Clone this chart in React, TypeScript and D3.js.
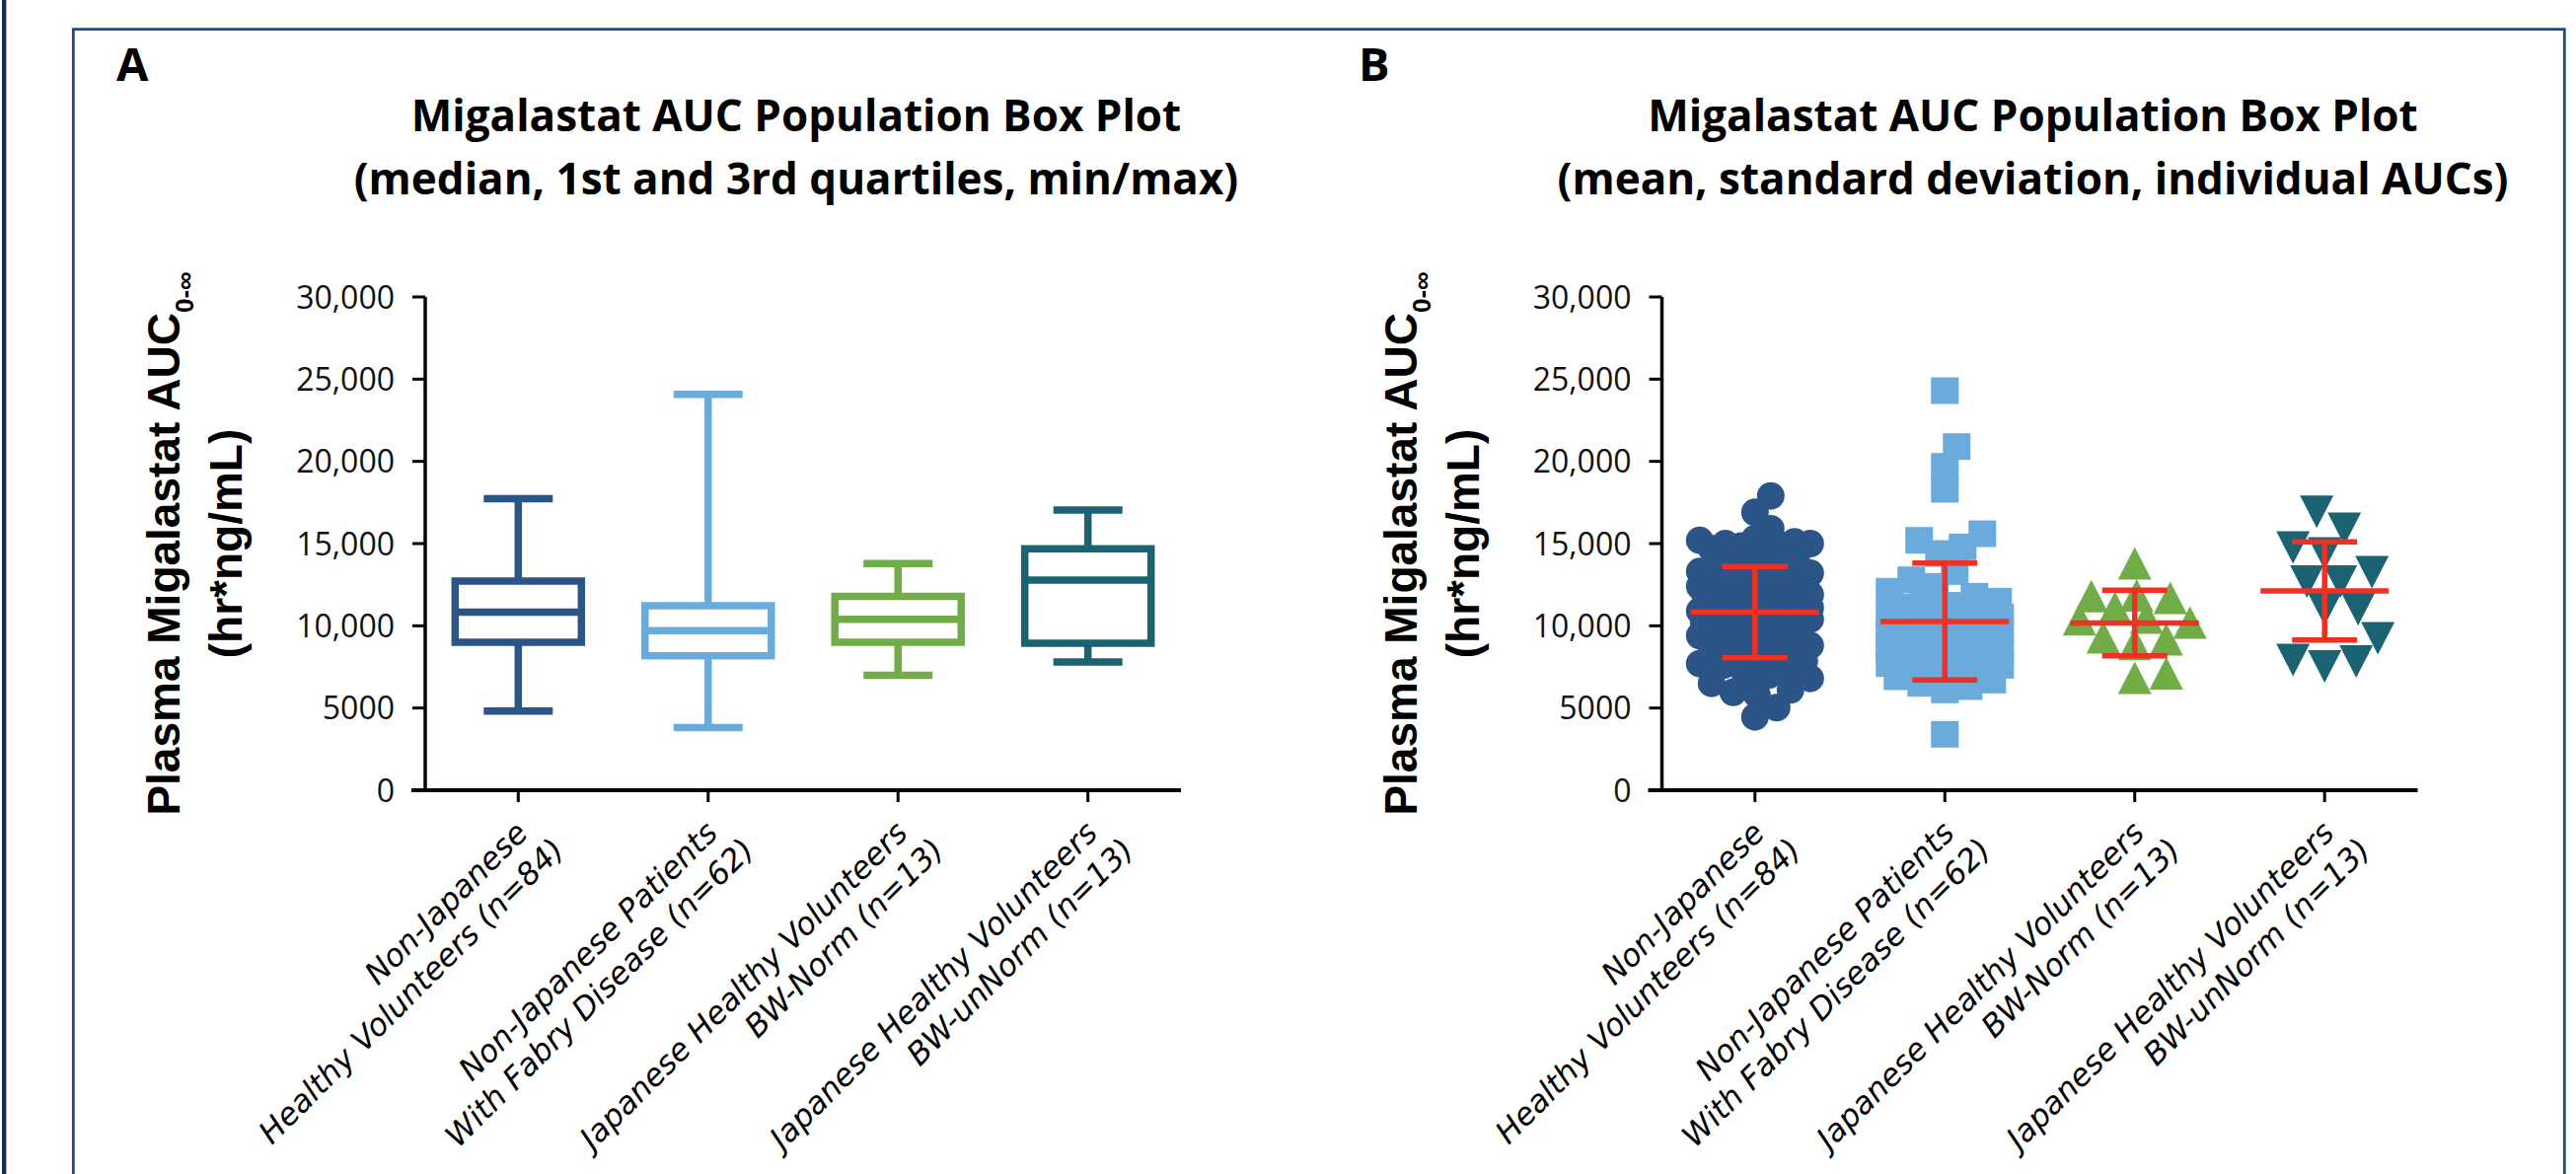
import React from 'react';
import * as d3 from 'd3';

// ---------- data ----------
const categoryLine1 = ['Non-Japanese', 'Non-Japanese Patients', 'Japanese Healthy Volunteers', 'Japanese Healthy Volunteers'];
const categoryLine2 = ['Healthy Volunteers (n=84)', 'With Fabry Disease (n=62)', 'BW-Norm (n=13)', 'BW-unNorm (n=13)'];
const categoryKeys = ['nj', 'fabry', 'jpNorm', 'jpUnNorm'];

const yTicks = [0, 5000, 10000, 15000, 20000, 25000, 30000];

// Panel A: box plot statistics
const boxMin = [4818, 3804, 6996, 7800];
const boxQ1 = [9000, 8178, 9000, 8940];
const boxMedian = [10830, 9708, 10398, 12780];
const boxQ3 = [12720, 11220, 11790, 14682];
const boxMax = [17724, 24072, 13782, 17040];

// Panel B: mean and SD
const meanAUC = [10830, 10260, 10170, 12120];
const sdAUC = [2778, 3558, 1995, 2985];

// Panel B: individual AUCs
const aucNonJapaneseHV = [
  4460, 5020, 5800, 5950, 6100, 6500, 6800, 7000, 7100, 7300,
  7600, 7700, 7850, 7900, 8000, 8200, 8400, 8600, 8800, 8950, 9000,
  9200, 9400, 9550, 9700, 9800, 9900, 9950, 10000, 10100, 10200,
  10300, 10400, 10500, 10600, 10700, 10750, 10800, 10830, 10850, 10900, 10950,
  11000, 11100, 11200, 11350, 11500, 11600, 11700, 11800, 11850, 11900,
  11950, 12000, 12100, 12200, 12300, 12400, 12500, 12600, 12650, 12700, 12750,
  12900, 13000, 13100, 13200, 13300, 13400, 13600, 13900, 14200, 14500,
  14700, 14850, 14900, 15000, 15000, 15100, 15200, 15300, 15900, 16900, 17900,
];
const aucFabry = [
  3400, 6100, 6300, 6500, 6700, 6900, 7000, 7200, 7350, 7500, 7600, 7700, 7850, 7950, 8100,
  8200, 8300, 8400, 8500, 8600, 8700, 8800, 8900, 9000, 9100, 9200, 9300, 9400, 9500, 9600, 9700,
  9750, 9850, 9950, 10050, 10150, 10250, 10350, 10450, 10550, 10650, 10750, 10850, 10950, 11050, 11150, 11250,
  11300, 11500, 11800, 12100, 12400, 12800, 13300, 14400, 14800, 15200, 15600, 18300, 19700, 20900, 24300,
];
const aucJapaneseNorm = [6840, 7110, 8900, 9180, 9300, 10200, 10400, 10500, 11100, 11700, 11800, 11850, 13800];
const aucJapaneseUnNorm = [7524, 7824, 7920, 9246, 11016, 11016, 12690, 12690, 13266, 14400, 14760, 15906, 16938];

const groupColors = ['#2B5487', '#6AABDC', '#70AD47', '#1B6273'];
const errorRed = '#EE3124';

// ---------- layout ----------
const W = 2611;
const H = 1190;
const plotW = 766;
const yTop = 301;
const yBottom = 801;
const panelX0 = [431, 1684.5];

const y = d3.scaleLinear().domain([0, 30000]).range([yBottom, yTop]);
const fmt = (v: number) => (v >= 10000 ? d3.format(',')(v) : String(v));

const titleFont = "'Open Sans', sans-serif";
const tickFont = "'Open Sans', sans-serif";
const axisTitleFont = "'Liberation Sans', Arial, sans-serif";
const catFont = "'DejaVu Sans', sans-serif";

type Sym = { kind: 'circle' | 'square' | 'tri' | 'itri'; w: number; h: number };
const symbols: Sym[] = [
  { kind: 'circle', w: 28, h: 28 },
  { kind: 'square', w: 28, h: 27 },
  { kind: 'tri', w: 34, h: 33 },
  { kind: 'itri', w: 34, h: 33 },
];
const groups = [aucNonJapaneseHV, aucFabry, aucJapaneseNorm, aucJapaneseUnNorm];
const swarmFactor = [0.8, 0.85, 0.95, 0.95];

function swarmOffsets(values: number[], sw: number, sh: number, maxHalf: number): number[] {
  const order = values.map((_, i) => i).sort((a, b) => values[a] - values[b]);
  const cands: number[] = [0];
  for (let k = 1; k * 2 <= maxHalf; k++) cands.push(k * 2, -k * 2);
  const placed: { x: number; y: number }[] = [];
  const out: number[] = new Array(values.length).fill(0);
  for (const i of order) {
    const py = y(values[i]);
    let best = 0;
    let bestScore = -Infinity;
    for (const c of cands) {
      let minD = Infinity;
      for (const p of placed) {
        const dx = (p.x - c) / sw;
        const dy = (p.y - py) / sh;
        const d = Math.sqrt(dx * dx + dy * dy);
        if (d < minD) minD = d;
      }
      if (minD >= 1) {
        best = c;
        break;
      }
      if (minD > bestScore + 1e-9) {
        bestScore = minD;
        best = c;
      }
    }
    placed.push({ x: best, y: py });
    out[i] = best;
  }
  return out;
}

function symbolPath(kind: string, cx: number, cy: number, w: number, h: number) {
  const p = d3.path();
  if (kind === 'square') {
    p.rect(cx - w / 2, cy - h / 2, w, h);
  } else if (kind === 'tri') {
    p.moveTo(cx, cy - h / 2);
    p.lineTo(cx + w / 2, cy + h / 2);
    p.lineTo(cx - w / 2, cy + h / 2);
    p.closePath();
  } else if (kind === 'itri') {
    p.moveTo(cx, cy + h / 2);
    p.lineTo(cx + w / 2, cy - h / 2);
    p.lineTo(cx - w / 2, cy - h / 2);
    p.closePath();
  } else {
    p.arc(cx, cy, w / 2, 0, Math.PI * 2);
  }
  return p.toString();
}

function Axes({ x0, x }: { x0: number; x: d3.ScalePoint<string> }) {
  return (
    <g>
      <line x1={x0} x2={x0} y1={yTop} y2={yBottom} stroke="#000" strokeWidth={3.5} />
      <line x1={x0 - 14} x2={x0 + plotW} y1={yBottom} y2={yBottom} stroke="#000" strokeWidth={4} />
      {yTicks.map((t) => (
        <g key={t}>
          <line x1={x0 - 13} x2={x0} y1={y(t)} y2={y(t)} stroke="#000" strokeWidth={3} />
          <text x={x0 - 31} y={y(t)} dy="0.36em" textAnchor="end" fontFamily={tickFont} fontSize={32} fill="#111">
            {fmt(t)}
          </text>
        </g>
      ))}
      {categoryKeys.map((k, i) => {
        const cx = x(k) as number;
        return (
          <g key={k}>
            <line x1={cx} x2={cx} y1={yBottom} y2={yBottom + 12} stroke="#000" strokeWidth={3} />
            <g transform={`translate(${cx},${yBottom}) rotate(-45)`}>
              <text x={-24} y={40} textAnchor="end" fontFamily={catFont} fontStyle="italic" fontSize={31.5} fill="#000">
                {categoryLine1[i]}
              </text>
              <text x={-10} y={78} textAnchor="end" fontFamily={catFont} fontStyle="italic" fontSize={31.5} fill="#000">
                {categoryLine2[i]}
              </text>
            </g>
          </g>
        );
      })}
      <g transform={`translate(${x0 - 249},${(yTop + yBottom) / 2}) rotate(-90)`}>
        <text textAnchor="middle" fontFamily={axisTitleFont} fontWeight="bold" fontSize={46} fill="#000">
          <tspan>Plasma Migalastat AUC</tspan>
          <tspan fontSize={26} dy={14}>0-∞</tspan>
        </text>
      </g>
      <g transform={`translate(${x0 - 186},${(yTop + yBottom) / 2}) rotate(-90)`}>
        <text textAnchor="middle" fontFamily={axisTitleFont} fontWeight="bold" fontSize={46} fill="#000">
          (hr*ng/mL)
        </text>
      </g>
    </g>
  );
}

function Titles({ x0, letter, letterX, line2 }: { x0: number; letter: string; letterX: number; line2: string }) {
  const cx = x0 + 376;
  return (
    <g fontFamily={titleFont} fontWeight="bold" fill="#000">
      <text x={letterX} y={82} fontSize={47}>{letter}</text>
      <text x={cx} y={133} fontSize={44} textAnchor="middle">Migalastat AUC Population Box Plot</text>
      <text x={cx} y={197} fontSize={44} textAnchor="middle">{line2}</text>
    </g>
  );
}

export default function App() {
  const xA = d3.scalePoint<string>().domain(categoryKeys).range([panelX0[0], panelX0[0] + plotW]).padding(0.49);
  const xB = d3.scalePoint<string>().domain(categoryKeys).range([panelX0[1], panelX0[1] + plotW]).padding(0.49);

  const boxHalf = 64;
  const capHalf = 35;
  const sw = 7.5;

  const offsets = groups.map((g, gi) =>
    swarmOffsets(g, symbols[gi].w * swarmFactor[gi], symbols[gi].h * swarmFactor[gi], 56)
  );

  return (
    <svg width={W} height={H} style={{ position: 'absolute', left: 0, top: 0, background: '#fff' }}>
      <rect x={0} y={0} width={W} height={H} fill="#fff" />
      {/* frames */}
      <rect x={2} y={0} width={4.3} height={H} fill="#172D50" />
      <path d={`M74.3,${H + 5} L74.3,29.7 L2599.3,29.7 L2599.3,${H + 5}`} fill="none" stroke="#2A4770" strokeWidth={2.8} />

      {/* Panel A */}
      <Titles x0={panelX0[0]} letter="A" letterX={118} line2="(median, 1st and 3rd quartiles, min/max)" />
      <Axes x0={panelX0[0]} x={xA} />
      {categoryKeys.map((k, i) => {
        const cx = xA(k) as number;
        const c = groupColors[i];
        return (
          <g key={k} stroke={c} strokeWidth={sw} fill="none">
            <line x1={cx} x2={cx} y1={y(boxMax[i])} y2={y(boxQ3[i])} />
            <line x1={cx} x2={cx} y1={y(boxQ1[i])} y2={y(boxMin[i])} />
            <line x1={cx - capHalf} x2={cx + capHalf} y1={y(boxMax[i])} y2={y(boxMax[i])} />
            <line x1={cx - capHalf} x2={cx + capHalf} y1={y(boxMin[i])} y2={y(boxMin[i])} />
            <rect x={cx - boxHalf} y={y(boxQ3[i])} width={boxHalf * 2} height={y(boxQ1[i]) - y(boxQ3[i])} />
            <line x1={cx - boxHalf} x2={cx + boxHalf} y1={y(boxMedian[i])} y2={y(boxMedian[i])} />
          </g>
        );
      })}

      {/* Panel B */}
      <Titles x0={panelX0[1]} letter="B" letterX={1377} line2="(mean, standard deviation, individual AUCs)" />
      <Axes x0={panelX0[1]} x={xB} />
      {groups.map((g, gi) => {
        const cx = xB(categoryKeys[gi]) as number;
        const s = symbols[gi];
        return (
          <g key={gi} fill={groupColors[gi]}>
            {g.map((v, j) => (
              <path key={j} d={symbolPath(s.kind, cx + offsets[gi][j], y(v), s.w, s.h)} />
            ))}
          </g>
        );
      })}
      {categoryKeys.map((k, i) => {
        const cx = xB(k) as number;
        const hi = meanAUC[i] + sdAUC[i];
        const lo = meanAUC[i] - sdAUC[i];
        return (
          <g key={k} stroke={errorRed} strokeWidth={5.5}>
            <line x1={cx} x2={cx} y1={y(hi)} y2={y(lo)} />
            <line x1={cx - 33} x2={cx + 33} y1={y(hi)} y2={y(hi)} />
            <line x1={cx - 33} x2={cx + 33} y1={y(lo)} y2={y(lo)} />
            <line x1={cx - 65} x2={cx + 65} y1={y(meanAUC[i])} y2={y(meanAUC[i])} />
          </g>
        );
      })}
    </svg>
  );
}
